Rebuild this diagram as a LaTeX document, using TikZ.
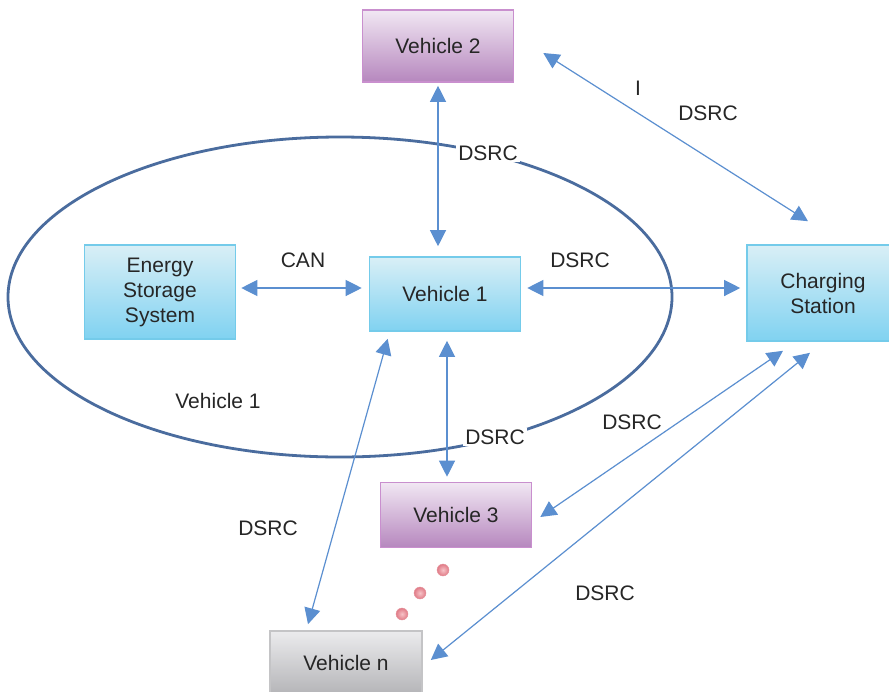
\documentclass[tikz,border=0pt]{standalone}
\usepackage{fontspec}
\setmainfont{Liberation Sans}
\usetikzlibrary{arrows.meta,calc}
\definecolor{arrowblue}{HTML}{5B8FD0}
\definecolor{ellblue}{HTML}{4A6C9E}
\definecolor{bluetop}{HTML}{D9EFF6}
\definecolor{bluebot}{HTML}{80D2F1}
\definecolor{blueedge}{HTML}{74CBEA}
\definecolor{purtop}{HTML}{F1E7F3}
\definecolor{purbot}{HTML}{B687BE}
\definecolor{puredge}{HTML}{C98FCE}
\definecolor{graytop}{HTML}{EBEBED}
\definecolor{graybot}{HTML}{B4B4B7}
\definecolor{grayedge}{HTML}{C4C4C6}
\definecolor{dotin}{HTML}{F7C3C8}
\definecolor{dotout}{HTML}{E07A86}
\tikzset{
  txt/.style={font=\fontsize{21}{25}\selectfont, text=black!85},
  bluebox/.style={txt, draw=blueedge, line width=1.6pt, top color=bluetop, bottom color=bluebot, minimum width=151pt, align=center, inner sep=0pt},
  purbox/.style={txt, draw=puredge, line width=1.6pt, top color=purtop, bottom color=purbot, minimum width=151pt, minimum height=72pt, inner sep=0pt},
  graybox/.style={txt, draw=grayedge, line width=1.6pt, top color=graytop, bottom color=graybot, minimum width=152pt, minimum height=64pt, inner sep=0pt},
  conn/.style={draw=arrowblue, line width=1.2pt, {Triangle[length=16pt,width=16pt]}-{Triangle[length=16pt,width=16pt]}, color=arrowblue},
  lbl/.style={txt, inner sep=2pt},
  wlbl/.style={txt, fill=white, inner sep=2pt},
  pdot/.style={circle, inner sep=0pt, minimum size=12pt, inner color=dotin, outer color=dotout, draw=dotout!80!white, line width=0.4pt},
}
\begin{document}
\begin{tikzpicture}[x=1pt,y=-1pt]
\clip (0,0) rectangle (889,691);
\useasboundingbox (0,0) rectangle (889,691);
\fill[white] (0,0) rectangle (889,691);
% ellipse
\draw[ellblue, line width=2.8pt] (340,297) ellipse [x radius=332, y radius=160];
% nodes
\node[purbox] (v2) at (438,46) {Vehicle 2};
\node[bluebox, minimum height=94pt] (esa) at (160,292) {Energy\\Storage\\System};
\node[bluebox, minimum height=74pt] (v1) at (445,294) {Vehicle 1};
\node[bluebox, minimum width=152pt, minimum height=96pt] (cs) at (823,293) {Charging\\Station};
\node[purbox, minimum height=65pt] (v3) at (456,515) {Vehicle 3};
\node[graybox] (vn) at (346,663) {Vehicle n};
% dots
\node[pdot] (d1) at (443,570) {};
\node[pdot] (d2) at (420,593) {};
\node[pdot] (d3) at (402,614) {};
% connectors
\draw[conn, shorten <=3pt, shorten >=10pt] (v2.south) -- (v2.south |- v1.north);
\draw[conn, shorten <=5pt, shorten >=7pt] ([yshift=4pt]esa.east) -- ([yshift=4pt]esa.east -| v1.west);
\draw[conn, shorten <=6pt, shorten >=6pt] ([yshift=6pt]v1.east) -- ([yshift=6pt]v1.east -| cs.west);
\draw[conn] ([xshift=29pt,yshift=-7pt]v2.east) -- ([xshift=-15pt,yshift=23pt]cs.north);
\draw[conn, shorten <=9pt, shorten >=5pt] ([xshift=2pt]v1.south) -- ([xshift=2pt]v1.south |- v3.north);
\draw[conn] ([xshift=19pt,yshift=-7pt]v1.south west) -- ([xshift=-38pt,yshift=6pt]vn.north);
\draw[conn] ([xshift=-40pt,yshift=-9pt]cs.south) -- ([xshift=8pt,yshift=-2pt]v3.east);
\draw[conn] ([xshift=-13pt,yshift=-11pt]cs.south) -- ([xshift=8pt,yshift=3pt]vn.east);
% labels
\node[lbl] (lcan) at (303,260) {CAN};
\node[lbl] (lds1) at (580,260) {DSRC};
\node[wlbl] (ldtop) at (488,153) {DSRC};
\node[wlbl] (ldbot) at (495,437) {DSRC};
\node[lbl] (li) at (638,88) {I};
\node[lbl] (ldv2) at (708,113) {DSRC};
\node[lbl] (ldcs) at (632,422) {DSRC};
\node[lbl] (ldvn) at (268,528) {DSRC};
\node[lbl] (ldcn) at (605,593) {DSRC};
\node[lbl] (lv1) at (218,401) {Vehicle 1};
\end{tikzpicture}
\end{document}
